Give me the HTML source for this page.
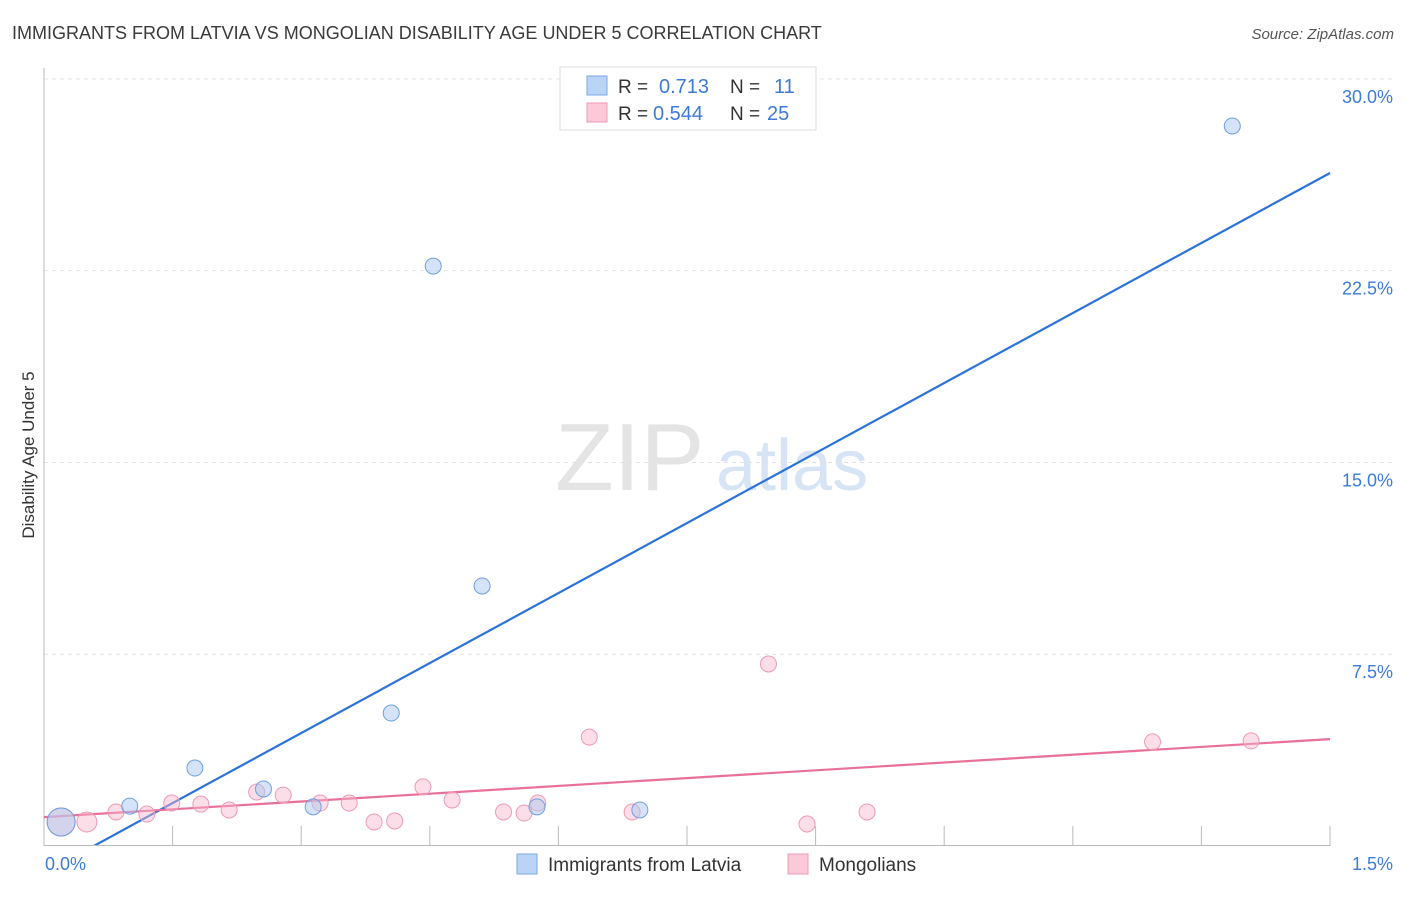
<!DOCTYPE html>
<html><head><meta charset="utf-8"><style>
body{margin:0;background:#fff;font-family:"Liberation Sans",sans-serif;}
svg text{font-family:"Liberation Sans",sans-serif;}
</style></head><body>
<svg id="chart" width="1406" height="892" xmlns="http://www.w3.org/2000/svg">
<text x="12" y="39" font-size="18" fill="#3a3a3a">IMMIGRANTS FROM LATVIA VS MONGOLIAN DISABILITY AGE UNDER 5 CORRELATION CHART</text>
<text x="1394" y="39" font-size="15" fill="#555" text-anchor="end" font-style="italic">Source: ZipAtlas.com</text>
<text x="555" y="490" font-size="96" fill="#e4e4e4" font-family="Liberation Serif">ZIP</text>
<text x="716" y="490" font-size="72" fill="#d6e4f5">atlas</text>
<text transform="translate(34,455) rotate(-90)" font-size="17" fill="#333" text-anchor="middle">Disability Age Under 5</text>
<g id="grid"></g><g id="axes"></g>
<defs><clipPath id="plotclip"><rect x="44" y="60" width="1300" height="785"/></clipPath></defs>
<g id="lines" clip-path="url(#plotclip)"></g>
<g id="points"></g>
<g>
<rect x="560" y="67" width="256" height="63" fill="#fff" stroke="#ddd"/>
<rect x="587" y="76" width="20" height="19" fill="#b9d4f5" stroke="#7aa8e6"/>
<text x="618" y="93" font-size="19" fill="#333">R =</text><text x="659" y="93" font-size="20" fill="#3d7bd9">0.713</text>
<text x="730" y="93" font-size="19" fill="#333">N =</text><text x="774" y="93" font-size="20" fill="#3d7bd9">11</text>
<rect x="587" y="103" width="20" height="19" fill="#fbc9d8" stroke="#ef9ab5"/>
<text x="618" y="120" font-size="19" fill="#333">R =</text><text x="653" y="120" font-size="20" fill="#3d7bd9">0.544</text>
<text x="730" y="120" font-size="19" fill="#333">N =</text><text x="767" y="120" font-size="20" fill="#3d7bd9">25</text>
</g>
<g>
<rect x="517" y="854" width="20" height="20" fill="#b9d4f5" stroke="#7aa8e6"/>
<text x="548" y="871" font-size="19" fill="#333">Immigrants from Latvia</text>
<rect x="788" y="854" width="20" height="20" fill="#fbc9d8" stroke="#ef9ab5"/>
<text x="819" y="871" font-size="19" fill="#333">Mongolians</text>
</g>
</svg>
<script>
const yTicks=[7.5,15,22.5,30];
const yTickLabels=["7.5%","15.0%","22.5%","30.0%"];
const xTicks=[0.15,0.3,0.45,0.6,0.75,0.9,1.05,1.2,1.35,1.5];
const blueX=[0.020,0.100,0.176,0.256,0.314,0.405,0.454,0.511,0.575,0.695,1.386];
const blueY=[0.94,1.56,3.05,2.23,1.53,5.20,22.68,10.17,1.53,1.41,28.16];
const blueR=[14,8,8,8,8,8,8,8,8,8,8];
const pinkX=[0.020,0.050,0.084,0.120,0.149,0.183,0.216,0.248,0.279,0.322,0.356,0.385,0.409,0.442,0.476,0.536,0.560,0.576,0.636,0.686,0.845,0.890,0.960,1.293,1.408];
const pinkY=[0.94,0.94,1.33,1.25,1.68,1.64,1.41,2.11,1.99,1.68,1.68,0.94,0.98,2.31,1.80,1.33,1.29,1.68,4.26,1.33,7.12,0.86,1.33,4.07,4.11];
const pinkR=[14,10,8,8,8,8,8,8,8,8,8,8,8,8,8,8,8,8,8,8,8,8,8,8,8];
const blueTrend=[-1.06,26.32];
const pinkTrend=[1.13,4.18];
const trendX=[0,1.5];
const X=v=>44+v/1.5*1286;
const Y=v=>846-v*25.57;
const NS="http://www.w3.org/2000/svg";
function mk(t,a,p){const e=document.createElementNS(NS,t);for(const k in a)e.setAttribute(k,a[k]);p.appendChild(e);return e;}
const grid=document.getElementById('grid'),axes=document.getElementById('axes');
yTicks.forEach((t,i)=>{
 const l=mk('line',{x1:44,x2:1394,y1:Y(t),y2:Y(t),stroke:'#e2e2e2','stroke-dasharray':'4,4'},grid);
 
 
 const tx=mk('text',{x:1393,y:Y(t)+24,'font-size':18,fill:'#3d7bd9','text-anchor':'end'},axes);
 tx.textContent=yTickLabels[i];
 
 
});
const ya=mk('line',{x1:44,x2:44,y1:68,y2:846,stroke:'#bbb'},axes);


const xa=mk('line',{x1:44,x2:1330,y1:845.5,y2:845.5,stroke:'#bbb'},axes);


xTicks.forEach(t=>{
 const l=mk('line',{x1:X(t),x2:X(t),y1:826,y2:846,stroke:'#bbb'},axes);
 
 
});
const x0=mk('text',{x:45,y:870,'font-size':18,fill:'#3d7bd9'},axes);x0.textContent='0.0%';


const x1=mk('text',{x:1393,y:870,'font-size':18,fill:'#3d7bd9','text-anchor':'end'},axes);x1.textContent='1.5%';


const pts=document.getElementById('points');
pinkX.forEach((v,i)=>{
 const c=mk('circle',{cx:X(v),cy:Y(pinkY[i]),r:pinkR[i],fill:'rgba(248,182,203,0.45)',stroke:'#ec9ab4','stroke-width':1},pts);
 
 
});
blueX.forEach((v,i)=>{
 const c=mk('circle',{cx:X(v),cy:Y(blueY[i]),r:blueR[i],fill:'rgba(170,200,240,0.5)',stroke:'#6f9fe0','stroke-width':1},pts);
 
 
});
const lines=document.getElementById('lines');
const bl=mk('line',{x1:X(trendX[0]),y1:Y(blueTrend[0]),x2:X(trendX[1]),y2:Y(blueTrend[1]),stroke:'#2b72d9','stroke-width':2.2},lines);


const pl=mk('line',{x1:X(trendX[0]),y1:Y(pinkTrend[0]),x2:X(trendX[1]),y2:Y(pinkTrend[1]),stroke:'#e8709a','stroke-width':2.2},lines);


</script>
</body></html>
